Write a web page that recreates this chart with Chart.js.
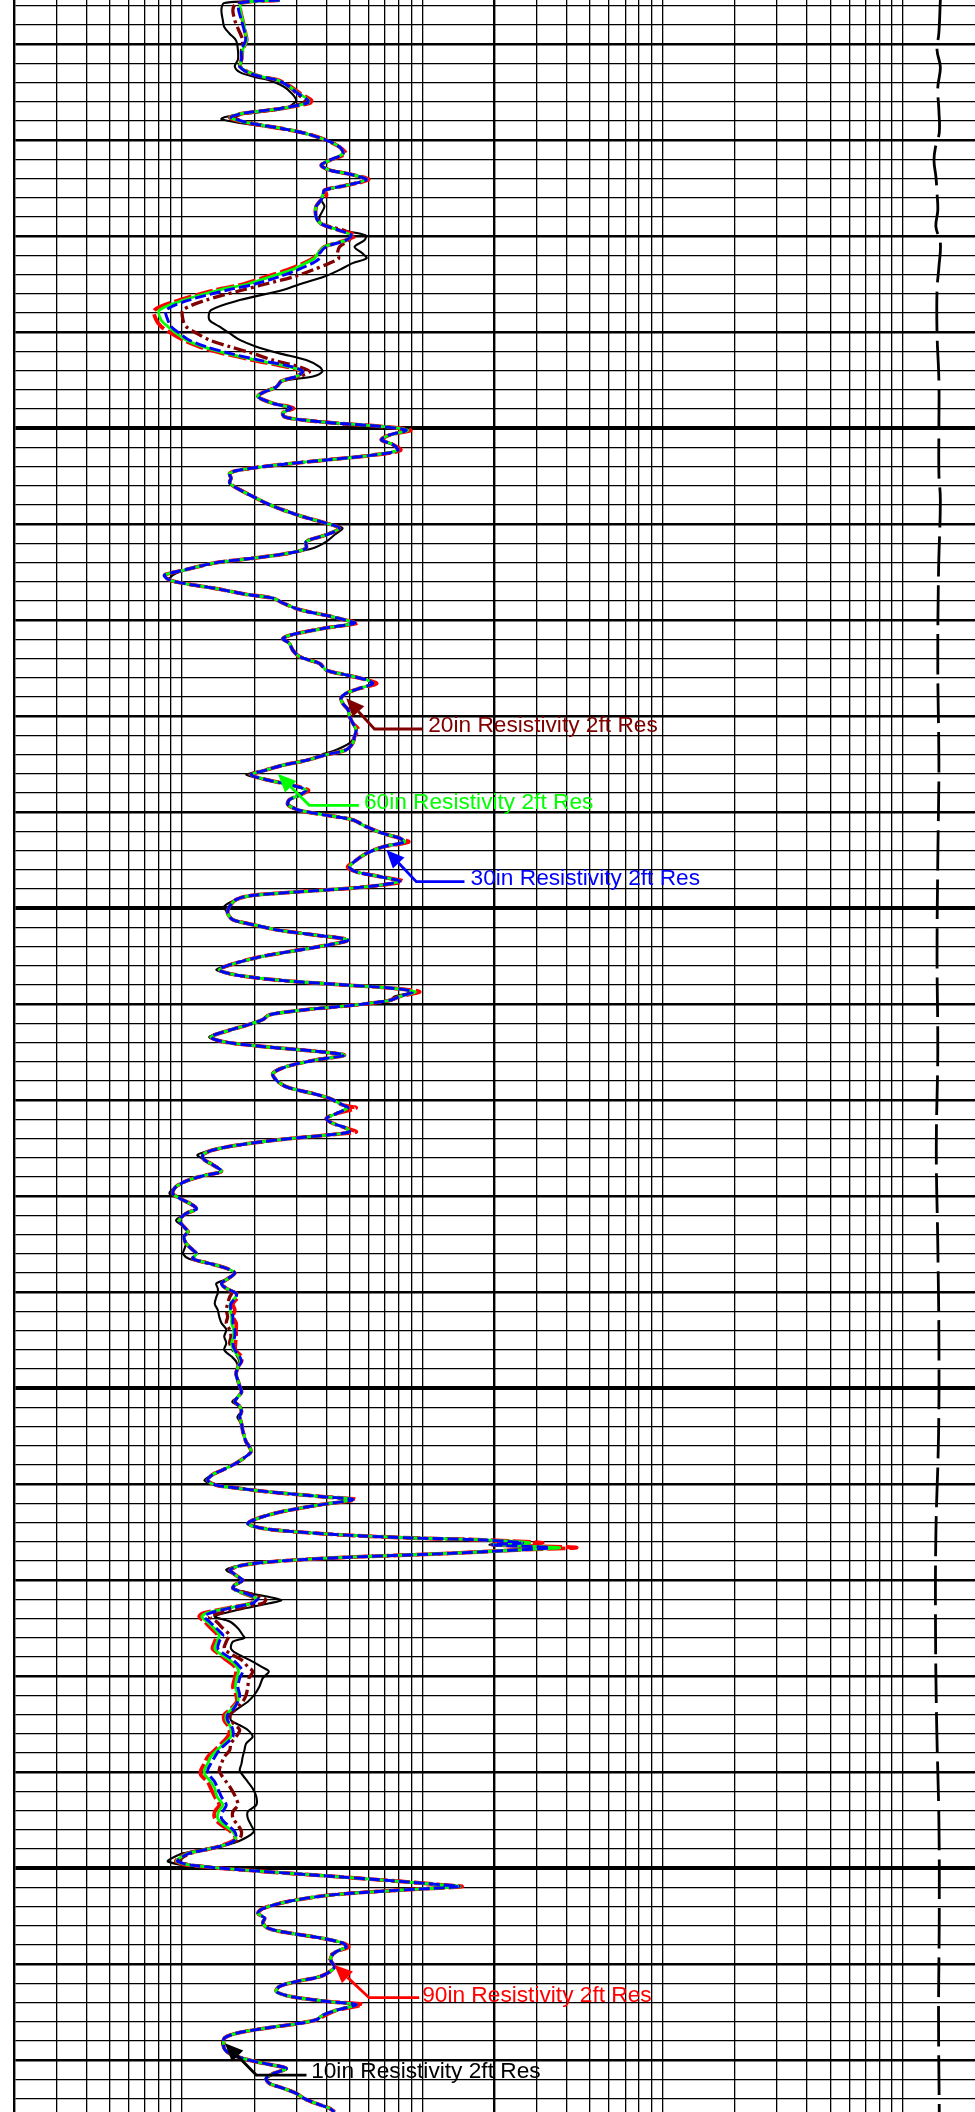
<!DOCTYPE html>
<html>
<head>
<meta charset="utf-8">
<script src="https://cdn.jsdelivr.net/npm/chart.js@4.4.1/dist/chart.umd.min.js"></script>
<style>
html,body{margin:0;padding:0;background:#fff;}
#wrap{width:975px;height:2112px;position:relative;}
</style>
</head>
<body>
<div id="wrap"><canvas id="c"></canvas></div>
<script>
// ---------------- DATA ----------------
const DEPTH_FT = [
5055.39,5055.7,5056.4,5057.5,5058.2,5058.9,5059.6,5060.6,5061.6,5062.3,
5062.9,5063.4,5063.7,5064.4,5065.1,5065.8,5066.1,5066.7,5067.2,5067.6,
5067.8,5068.2,5068.8,5069.3,5070.0,5070.7,5071.4,5072.1,5072.6,5073.1,
5073.6,5074.1,5074.7,5075.2,5075.7,5076.2,5076.9,5078.0,5078.7,5079.4,
5079.9,5080.4,5081.1,5081.8,5082.3,5082.8,5083.5,5084.2,5085.0,5085.6,
5086.65,5087.7,5088.7,5089.4,5090.1,5090.8,5091.5,5092.2,5092.9,5093.6,
5094.1,5094.6,5095.1,5095.7,5096.2,5096.7,5097.4,5097.9,5098.4,5098.8,
5099.1,5099.5,5099.8,5100.2,5100.7,5101.2,5101.7,5102.3,5102.8,5103.3,
5103.8,5104.35,5104.7,5105.2,5105.7,5106.4,5107.1,5107.8,5108.5,5109.2,
5109.9,5110.4,5111.1,5111.8,5112.5,5113.0,5113.5,5114.0,5114.8,5115.3,
5115.8,5116.2,5116.7,5117.3,5117.7,5118.2,5118.9,5119.5,5120.0,5120.3,
5120.8,5121.4,5121.9,5122.4,5123.1,5123.8,5124.5,5125.2,5125.7,5126.2,
5126.6,5127.1,5127.6,5128.1,5128.7,5129.3,5130.0,5130.7,5131.4,5132.1,
5132.8,5133.5,5134.0,5134.6,5135.1,5135.6,5136.1,5136.6,5137.2,5137.7,
5138.2,5138.7,5139.2,5139.8,5140.3,5140.8,5141.5,5142.2,5142.7,5143.1,
5143.6,5144.3,5145.0,5145.7,5146.2,5146.7,5147.2,5147.8,5148.3,5148.7,
5149.1,5149.8,5150.5,5151.2,5151.7,5152.3,5152.8,5153.3,5153.8,5154.4,
5155.0,5155.7,5156.4,5156.95,5157.5,5158.0,5158.3,5158.7,5159.2,5159.6,
5160.1,5160.6,5161.1,5161.6,5162.2,5162.7,5163.4,5163.9,5164.4,5164.9,
5165.3,5165.8,5166.5,5167.2,5167.9,5168.6,5169.3,5169.8,5170.5,5170.8,
5171.4,5171.9,5172.4,5172.9,5173.3,5173.6,5174.1,5174.7,5175.2,5175.7,
5176.2,5176.7,5177.4,5177.8,5178.3,5179.0,5179.7,5180.2,5180.7,5181.3,
5181.8,5182.5,5183.2,5183.7,5184.2,5184.9,5185.6,5186.0,5186.5,5187.0,
5187.5,5188.0,5188.6,5189.1,5189.6,5190.1,5190.5,5191.2,5191.85,5192.55,
5193.2,5193.9,5194.6,5195.3,5196.0,5196.7,5197.2,5197.8,5198.5,5199.2,
5199.8,5200.4,5200.9,5201.4,5201.9,5202.4,5203.0,5203.7,5204.4,5205.05,
5205.6,5206.1,5206.6,5207.1,5207.8,5208.5,5209.0,5209.6,5210.1,5210.3,
5210.8,5211.3,5211.6,5212.2,5212.9,5213.6,5214.1,5214.6,5214.95,5215.3,
5215.6,5215.8,5216.1,5216.3,5216.6,5216.85,5217.2,5217.6,5218.0,5218.4,
5218.9,5219.5,5220.0,5220.5,5220.85,5221.4,5221.9,5222.1,5222.4,5222.9,
5223.45,5223.8,5224.3,5225.0,5225.7,5226.0,5226.4,5227.1,5227.6,5228.3,
5229.0,5229.5,5230.2,5231.1,5231.95,5232.65,5233.5,5234.0,5234.6,5235.1,
5235.6,5236.3,5237.0,5237.7,5238.4,5239.1,5239.8,5240.3,5241.0,5241.7,
5242.55,5243.4,5244.1,5244.8,5245.5,5246.2,5246.9,5247.4,5247.9,5248.45,
5249.0,5249.3,5249.7,5250.2,5250.7,5251.2,5251.75,5251.9,5252.3,5252.8,
5253.5,5254.2,5254.7,5255.2,5255.7,5256.3,5256.8,5257.3,5257.8,5258.2,
5258.7,5259.2,5259.7,5260.25,5260.8,5261.3,5261.8,5262.3,5262.85,5263.4,
5263.9,5264.2,5264.8,5265.3,5265.8,5266.2,5266.7,5267.2,5267.7,5268.25,
5268.8,5269.3,5269.8,5270.3,5270.85,5271.4,5271.9,5272.4,5272.9,5273.45,
5274.0,5274.5,5275.0,5275.4
];

// 10in Resistivity 2ft Res (ohm.m)
const RES_10IN = [
2.55,1.50,1.46,1.48,1.50,1.58,1.68,1.71,1.71,1.66,
1.74,2.00,2.27,2.65,2.86,2.99,2.94,2.70,1.91,1.50,
1.46,1.74,2.55,3.29,3.99,4.53,4.68,4.11,3.80,4.11,
5.14,5.92,4.83,3.92,3.86,3.80,3.92,3.74,3.80,4.68,
5.81,5.76,5.23,5.65,5.87,5.14,4.53,3.92,3.09,2.63,
1.74,1.32,1.30,1.43,1.58,1.74,2.04,2.55,3.29,3.74,
3.84,3.51,2.63,2.47,2.21,2.07,2.39,2.85,2.63,2.67,
3.09,4.53,6.65,8.58,7.32,6.76,7.55,7.92,6.23,3.99,
2.55,1.74,1.58,1.60,1.58,1.74,1.97,2.24,2.63,3.18,
3.99,4.66,4.32,3.99,3.51,2.80,2.04,1.39,1.03,0.917,
0.887,1.04,1.39,1.85,2.39,2.63,3.09,3.99,4.83,5.23,
3.99,2.99,2.63,2.80,2.89,3.09,3.74,3.99,4.83,5.85,
6.23,5.49,4.83,4.60,4.68,4.91,4.98,5.14,5.31,5.23,
4.98,4.38,3.81,3.29,2.63,2.24,1.85,2.24,2.89,3.29,
3.09,2.80,2.76,3.09,3.99,5.14,5.85,6.86,8.05,8.45,
6.86,5.85,5.31,4.98,5.31,6.65,8.05,5.66,2.99,1.91,
1.68,1.50,1.55,1.63,1.97,2.55,3.62,4.91,4.11,2.99,
2.17,1.68,1.39,1.68,2.55,4.83,7.32,9.15,7.67,7.32,
5.14,3.18,2.31,2.17,1.85,1.58,1.30,1.48,2.17,3.62,
4.75,3.62,2.72,2.39,2.47,2.72,3.51,4.11,4.68,4.91,
4.38,3.99,4.24,4.83,4.98,4.11,2.55,1.68,1.34,1.16,
1.24,1.34,1.46,1.26,1.07,0.945,0.887,0.976,1.07,1.15,
1.04,0.945,1.02,1.06,1.02,1.04,1.02,1.01,1.07,1.30,
1.53,1.66,1.55,1.39,1.41,1.41,1.39,1.37,1.41,1.43,
1.46,1.53,1.50,1.53,1.50,1.61,1.68,1.71,1.68,1.71,
1.74,1.77,1.71,1.62,1.74,1.77,1.70,1.77,1.79,1.82,
1.85,1.91,1.94,1.85,1.68,1.48,1.34,1.24,1.39,1.58,
2.31,3.86,5.14,3.62,2.55,2.04,1.88,2.17,2.99,4.83,
9.15,17.9,25.4,19.1,32.3,24.7,13.0,4.98,2.55,1.82,
1.53,1.68,1.79,1.66,1.63,1.97,2.47,2.59,2.31,1.85,
1.48,1.37,1.58,1.71,1.79,1.82,1.63,1.60,1.68,1.91,
2.14,2.30,2.17,2.10,2.00,1.88,1.68,1.60,1.60,1.74,
1.88,1.97,1.85,1.82,1.79,1.77,1.74,1.79,1.88,1.97,
2.04,2.04,1.88,1.88,1.94,1.99,1.82,1.63,1.30,1.01,
0.901,0.873,1.04,1.85,3.51,6.65,12.4,14.2,7.80,4.11,
2.72,2.17,2.07,2.21,2.17,2.31,2.89,3.86,4.68,4.83,
4.38,4.18,4.18,4.32,4.11,3.74,2.99,2.55,2.47,2.89,
4.11,5.31,4.38,3.86,3.62,2.99,2.17,1.68,1.50,1.47,
1.50,1.58,1.79,2.17,2.72,2.39,2.24,2.31,2.63,2.99,
3.24,3.62,4.11,4.32
];

// 20in Resistivity 2ft Res
const RES_20IN = [
2.55,1.69,1.63,1.66,1.70,1.75,1.79,1.77,1.77,1.74,
1.87,2.14,2.47,2.78,3.00,3.24,3.24,2.55,1.82,1.66,
1.69,1.93,2.63,3.29,3.99,4.53,4.68,4.11,3.80,4.11,
5.14,5.85,4.83,3.92,3.86,3.80,3.62,3.62,3.80,4.75,
5.08,4.98,4.53,4.44,4.49,4.11,3.51,2.94,2.21,1.79,
1.26,1.01,1.01,1.04,1.15,1.30,1.58,1.97,2.39,3.09,
3.40,3.09,2.59,2.47,2.21,2.07,2.39,2.85,2.63,2.67,
3.09,4.53,6.65,8.58,7.32,6.76,7.55,7.92,6.23,3.99,
2.55,1.74,1.58,1.60,1.58,1.74,1.97,2.24,2.63,3.18,
3.99,4.53,3.99,3.29,3.29,2.80,2.04,1.39,1.01,0.845,
0.887,1.04,1.39,1.85,2.39,2.63,3.09,3.99,4.83,5.23,
3.99,2.99,2.63,2.80,2.89,3.09,3.74,3.99,4.83,5.85,
6.23,5.49,4.83,4.60,4.68,4.91,4.98,5.14,5.31,5.23,
5.14,4.83,3.99,3.29,2.63,2.24,1.94,2.24,2.89,3.29,
3.09,2.80,2.76,3.09,3.99,5.14,5.85,6.86,8.05,8.45,
6.86,5.85,5.31,4.98,5.31,6.65,8.05,5.66,2.99,1.91,
1.68,1.58,1.55,1.63,1.97,2.55,3.62,4.91,4.11,2.99,
2.17,1.68,1.43,1.68,2.55,4.83,7.32,9.15,8.05,7.32,
5.14,3.18,2.31,2.17,1.85,1.58,1.32,1.48,2.17,3.62,
4.75,3.62,2.72,2.39,2.47,2.72,3.51,4.11,4.68,4.91,
4.38,3.99,4.24,4.83,4.98,4.11,2.55,1.68,1.34,1.22,
1.24,1.34,1.46,1.26,1.07,0.945,0.915,0.976,1.07,1.15,
1.04,0.976,1.02,1.06,1.02,1.04,1.11,1.15,1.11,1.30,
1.53,1.66,1.55,1.46,1.53,1.61,1.58,1.55,1.53,1.55,
1.53,1.58,1.60,1.58,1.63,1.71,1.74,1.71,1.68,1.71,
1.74,1.77,1.71,1.66,1.74,1.77,1.74,1.77,1.79,1.82,
1.85,1.91,1.94,1.85,1.68,1.48,1.34,1.28,1.39,1.58,
2.31,3.86,5.14,3.62,2.55,2.04,1.88,2.17,2.99,4.83,
9.15,17.9,26.7,19.6,34.9,24.7,13.0,4.98,2.55,1.82,
1.59,1.68,1.79,1.66,1.63,1.91,2.21,2.23,2.17,1.74,
1.43,1.30,1.39,1.48,1.58,1.56,1.53,1.50,1.58,1.77,
1.88,1.97,1.90,1.88,1.85,1.79,1.66,1.58,1.60,1.67,
1.74,1.68,1.60,1.58,1.50,1.46,1.43,1.46,1.53,1.60,
1.67,1.71,1.63,1.63,1.71,1.77,1.74,1.60,1.35,1.09,
0.992,0.976,1.12,1.85,3.51,6.65,12.4,14.2,7.80,4.11,
2.72,2.17,2.07,2.21,2.17,2.31,2.89,3.86,4.68,4.83,
4.38,4.11,4.18,4.32,4.11,3.74,2.99,2.55,2.47,2.89,
4.11,5.31,4.38,3.86,3.62,2.99,2.17,1.68,1.50,1.49,
1.50,1.58,1.79,2.17,2.72,2.39,2.24,2.31,2.63,2.99,
3.24,3.62,4.11,4.32
];

// 30in Resistivity 2ft Res
const RES_30IN = [
2.55,1.74,1.72,1.77,1.80,1.83,1.84,1.77,1.77,1.74,
1.87,2.14,2.47,2.80,3.03,3.34,3.34,2.55,1.79,1.60,
1.66,1.91,2.63,3.29,3.99,4.53,4.68,4.11,3.80,4.11,
5.14,5.85,4.83,3.92,3.86,3.80,3.62,3.62,3.80,4.53,
5.07,4.83,3.99,3.74,3.74,3.50,3.03,2.55,2.00,1.55,
1.07,0.859,0.873,0.901,0.976,1.07,1.26,1.58,2.10,2.89,
3.18,2.99,2.59,2.47,2.21,2.07,2.39,2.85,2.63,2.67,
3.09,4.53,6.65,8.58,7.32,6.76,7.55,7.92,6.23,3.99,
2.55,1.74,1.58,1.60,1.58,1.74,1.97,2.24,2.63,3.18,
3.99,4.53,3.99,3.29,3.29,2.80,2.04,1.39,1.01,0.845,
0.887,1.04,1.39,1.85,2.39,2.63,3.09,3.99,4.83,5.23,
3.99,2.99,2.63,2.80,2.89,3.09,3.74,3.99,4.83,5.85,
6.23,5.49,4.83,4.60,4.68,4.91,4.98,5.14,5.31,5.23,
5.14,4.83,3.99,3.29,2.63,2.24,1.94,2.24,2.89,3.29,
3.09,2.80,2.76,3.09,3.99,5.14,5.85,6.86,8.05,8.45,
6.86,5.85,5.31,4.98,5.31,6.65,8.05,5.66,2.99,1.91,
1.68,1.58,1.55,1.63,1.97,2.55,3.62,4.91,4.11,2.99,
2.17,1.68,1.43,1.68,2.55,4.83,7.32,9.15,8.05,7.32,
5.14,3.18,2.31,2.17,1.85,1.58,1.32,1.48,2.17,3.62,
4.75,3.62,2.72,2.39,2.47,2.72,3.51,4.11,4.68,4.91,
4.38,3.99,4.24,4.83,4.98,4.11,2.55,1.68,1.34,1.22,
1.24,1.34,1.46,1.26,1.07,0.945,0.915,0.976,1.07,1.15,
1.04,0.976,1.02,1.06,1.02,1.04,1.11,1.15,1.11,1.30,
1.53,1.66,1.55,1.46,1.53,1.68,1.68,1.60,1.60,1.63,
1.63,1.66,1.66,1.63,1.66,1.74,1.77,1.71,1.68,1.71,
1.74,1.77,1.71,1.66,1.74,1.77,1.74,1.77,1.79,1.82,
1.85,1.91,1.94,1.85,1.68,1.48,1.34,1.28,1.39,1.58,
2.31,3.86,5.14,3.62,2.55,2.04,1.88,2.17,2.99,4.83,
9.15,17.9,26.2,19.6,33.9,24.7,13.0,4.98,2.55,1.82,
1.59,1.68,1.79,1.66,1.63,1.85,2.07,2.04,1.97,1.58,
1.30,1.24,1.30,1.39,1.48,1.46,1.43,1.41,1.48,1.63,
1.74,1.79,1.74,1.71,1.74,1.71,1.63,1.55,1.55,1.60,
1.63,1.63,1.53,1.43,1.37,1.32,1.28,1.30,1.37,1.41,
1.46,1.53,1.48,1.46,1.55,1.66,1.68,1.58,1.34,1.07,
0.976,0.960,1.11,1.85,3.51,6.65,12.4,14.2,7.80,4.11,
2.72,2.17,2.07,2.21,2.17,2.31,2.89,3.86,4.68,4.83,
4.38,4.18,4.18,4.32,4.11,3.74,2.99,2.55,2.47,2.89,
4.11,5.31,4.38,3.86,3.62,2.99,2.17,1.68,1.50,1.49,
1.50,1.58,1.79,2.17,2.72,2.39,2.24,2.31,2.63,2.99,
3.24,3.62,4.11,4.32
];

// 60in Resistivity 2ft Res
const RES_60IN = [
2.55,1.77,1.75,1.79,1.82,1.84,1.86,1.79,1.77,1.75,
1.89,2.16,2.48,2.80,3.05,3.36,3.36,2.57,1.79,1.59,
1.64,1.89,2.63,3.29,3.99,4.53,4.68,4.11,3.80,4.11,
5.14,5.85,4.83,3.92,3.86,3.80,3.62,3.62,3.80,4.53,
5.07,4.83,3.92,3.68,3.56,3.27,2.86,2.35,1.87,1.43,
1.02,0.806,0.819,0.873,0.945,1.04,1.22,1.53,2.04,2.80,
3.18,2.99,2.59,2.47,2.21,2.07,2.39,2.85,2.63,2.67,
3.09,4.53,6.65,8.69,7.32,6.76,7.55,7.92,6.23,3.99,
2.55,1.74,1.58,1.60,1.58,1.74,1.97,2.24,2.63,3.18,
3.99,4.53,3.99,3.29,3.29,2.80,2.04,1.39,1.01,0.845,
0.887,1.04,1.39,1.85,2.39,2.63,3.09,3.99,4.83,5.23,
3.99,2.99,2.63,2.80,2.89,3.09,3.74,3.99,4.83,5.85,
6.23,5.49,4.83,4.60,4.68,4.91,4.98,5.14,5.31,5.23,
5.14,4.83,3.99,3.29,2.63,2.24,1.94,2.24,2.89,3.29,
3.09,2.80,2.76,3.09,3.99,5.14,5.85,6.86,8.05,8.45,
6.86,5.85,5.31,4.98,5.31,6.65,8.05,5.66,2.99,1.91,
1.68,1.58,1.55,1.63,1.97,2.55,3.62,4.91,4.11,2.99,
2.17,1.68,1.43,1.68,2.55,4.83,7.32,9.36,8.05,7.32,
5.14,3.18,2.31,2.17,1.85,1.58,1.32,1.48,2.17,3.62,
4.75,3.62,2.72,2.39,2.47,2.72,3.51,4.11,4.68,4.91,
4.38,3.99,4.24,4.83,4.98,4.11,2.55,1.68,1.34,1.22,
1.24,1.34,1.46,1.26,1.07,0.945,0.915,0.976,1.07,1.15,
1.04,0.976,1.02,1.06,1.02,1.04,1.11,1.15,1.11,1.30,
1.53,1.66,1.55,1.46,1.53,1.68,1.67,1.59,1.59,1.61,
1.61,1.64,1.64,1.61,1.64,1.72,1.75,1.71,1.68,1.71,
1.74,1.77,1.71,1.66,1.74,1.77,1.74,1.77,1.79,1.82,
1.85,1.91,1.94,1.85,1.68,1.48,1.34,1.28,1.39,1.58,
2.31,3.86,5.14,3.62,2.55,2.04,1.88,2.17,2.99,4.83,
9.15,17.9,28.0,19.6,37.3,24.7,13.0,4.98,2.55,1.82,
1.59,1.68,1.79,1.66,1.63,1.82,2.05,2.02,1.95,1.56,
1.26,1.21,1.27,1.36,1.43,1.42,1.40,1.37,1.43,1.58,
1.69,1.72,1.69,1.67,1.71,1.71,1.60,1.53,1.53,1.58,
1.60,1.60,1.50,1.40,1.32,1.28,1.24,1.25,1.32,1.37,
1.40,1.48,1.42,1.41,1.50,1.63,1.67,1.58,1.34,1.06,
0.969,0.951,1.10,1.85,3.51,6.65,12.4,14.3,7.80,4.11,
2.72,2.17,2.07,2.21,2.17,2.31,2.89,3.86,4.68,4.83,
4.38,4.18,4.18,4.32,4.11,3.74,2.99,2.55,2.47,2.89,
4.11,5.31,4.38,3.86,3.62,2.99,2.17,1.68,1.50,1.49,
1.50,1.58,1.79,2.17,2.72,2.39,2.24,2.31,2.63,2.99,
3.24,3.62,4.11,4.32
];

// 90in Resistivity 2ft Res
const RES_90IN = [
2.55,1.77,1.75,1.79,1.82,1.84,1.86,1.79,1.77,1.75,
1.89,2.16,2.50,2.83,3.09,3.45,3.43,2.60,1.79,1.58,
1.62,1.87,2.63,3.29,3.99,4.53,4.80,4.11,3.80,4.11,
5.14,5.98,4.83,3.92,4.00,3.80,3.62,3.62,3.80,4.53,
5.28,4.83,3.92,3.68,3.51,3.21,2.75,2.25,1.79,1.37,
0.976,0.768,0.781,0.819,0.901,1.01,1.18,1.48,1.97,2.72,
3.18,2.99,2.59,2.47,2.21,2.07,2.39,2.91,2.63,2.67,
3.09,4.53,6.65,8.95,7.32,6.76,7.55,8.13,6.23,3.99,
2.55,1.74,1.58,1.60,1.58,1.74,1.97,2.24,2.63,3.18,
3.99,4.53,3.99,3.29,3.29,2.80,2.04,1.39,1.01,0.845,
0.887,1.04,1.39,1.85,2.39,2.63,3.09,3.99,4.83,5.38,
3.99,2.99,2.63,2.80,2.89,3.09,3.74,3.99,4.83,5.85,
6.46,5.49,4.83,4.60,4.68,4.91,4.98,5.14,5.43,5.23,
5.14,4.83,3.99,3.29,2.63,2.24,1.94,2.24,2.89,3.36,
3.09,2.80,2.76,3.09,3.99,5.14,5.85,6.86,8.05,8.78,
6.86,5.85,5.31,4.89,5.31,6.65,8.29,5.66,2.99,1.91,
1.68,1.58,1.55,1.63,1.97,2.55,3.62,4.91,4.11,2.99,
2.17,1.68,1.43,1.68,2.55,4.83,7.32,9.75,8.05,7.32,
5.14,3.18,2.31,2.17,1.85,1.58,1.32,1.48,2.17,3.62,
4.75,3.62,2.72,2.39,2.47,2.72,3.51,4.11,4.68,5.31,
4.38,3.99,4.24,4.83,5.31,4.11,2.55,1.68,1.34,1.22,
1.24,1.34,1.46,1.26,1.07,0.945,0.915,0.976,1.07,1.15,
1.04,0.976,1.02,1.06,1.02,1.04,1.11,1.15,1.11,1.30,
1.53,1.66,1.55,1.46,1.53,1.68,1.71,1.63,1.66,1.63,
1.68,1.68,1.68,1.67,1.67,1.77,1.77,1.71,1.68,1.71,
1.74,1.77,1.71,1.66,1.74,1.77,1.74,1.77,1.79,1.82,
1.85,1.91,1.94,1.85,1.68,1.48,1.34,1.28,1.39,1.58,
2.31,3.86,5.28,3.62,2.55,2.04,1.88,2.17,2.99,4.83,
9.15,17.9,31.7,19.6,43.9,24.7,13.0,4.98,2.55,1.82,
1.59,1.68,1.79,1.66,1.63,1.82,2.04,2.00,1.94,1.55,
1.22,1.18,1.24,1.32,1.41,1.39,1.37,1.34,1.41,1.53,
1.66,1.68,1.66,1.63,1.68,1.69,1.58,1.50,1.50,1.55,
1.58,1.55,1.46,1.37,1.28,1.24,1.20,1.20,1.28,1.32,
1.37,1.43,1.37,1.37,1.46,1.60,1.67,1.55,1.34,1.06,
0.960,0.945,1.08,1.85,3.51,6.65,12.5,14.6,7.80,4.11,
2.72,2.17,2.07,2.21,2.17,2.31,2.89,3.86,4.68,4.94,
4.38,4.18,4.18,4.32,4.11,3.74,2.99,2.55,2.47,2.89,
4.11,5.65,4.38,3.96,3.62,2.99,2.17,1.68,1.50,1.49,
1.50,1.58,1.79,2.17,2.72,2.39,2.24,2.31,2.63,2.99,
3.24,3.62,4.11,4.32
];

// right-hand black dashed curve
const RIGHT_DEPTH = [5055.39,5058.8,5060.6,5062.4,5064.5,5066.9,5069.2,5070.7,5072.1,5073.8,
5075.5,5077.3,5079.0,5080.7,5083.2,5085.6,5090.1,5095.0,5099.9,5104.7,5107.5,
5115,5125,5135,5145,5155,5165,5175,5185,5195,5205,5215,5225,5235,5245,5255,5265,5275.4];
const RIGHT_RES = [1435,1415,1390,1435,1400,1415,1420,1370,1350,1375,
1390,1400,1375,1435,1415,1390,1390,1415,1415,1415,1435,
1410,1400,1415,1400,1390,1400,1380,1400,1415,1410,1375,1370,1385,1415,1420,1410,1420];

// grid values
const GRID_RES = [0.2,0.3,0.4,0.5,0.6,0.7,0.8,0.9,1,2,3,4,5,6,7,8,9,10,20,30,40,50,60,70,80,90,100,200,300,400,500,600,700,800,900,1000];
const DEPTH_TOP = 5055.39, DEPTH_BOTTOM = 5275.39;
const GRID_DEPTH = [];
for (let d = 5056; d <= 5274; d += 2) GRID_DEPTH.push(d);

// annotations
const ANNOT_TEXT  = ['20in Resistivity 2ft Res','60in Resistivity 2ft Res','30in Resistivity 2ft Res','90in Resistivity 2ft Res','10in Resistivity 2ft Res'];
const ANNOT_COLOR = ['#800000','#00ff00','#0000ff','#ff0000','#000000'];
const ANNOT_TIP_RES    = [4.83, 2.51, 7.09, 4.31, 1.51];
const ANNOT_TIP_DEPTH  = [5128.13, 5136.02, 5143.93, 5260.08, 5268.23];
const ANNOT_ELBOW_RES  = [6.33, 3.39, 9.45, 6.01, 2.04];
const ANNOT_LINE_DEPTH = [5131.33, 5139.28, 5147.23, 5263.48, 5271.54];
const ANNOT_END_RES    = [10.03, 5.45, 15.0, 9.72, 3.30];
const ANNOT_TEXT_RES   = [10.6, 5.72, 15.9, 10.0, 3.45];
const ANNOT_TEXT_DEPTH = [5131.0, 5139.04, 5146.95, 5263.31, 5271.19];

// ---------------- CHART ----------------
const pts = (vals, depths) => vals.map((v, i) => ({x: v, y: depths[i]}));

const annotPlugin = {
  id: 'annot',
  afterDatasetsDraw(chart) {
    const ctx = chart.ctx, xs = chart.scales.x, ys = chart.scales.y;
    ctx.save();
    for (let i = 0; i < ANNOT_TEXT.length; i++) {
      const tx = xs.getPixelForValue(ANNOT_TIP_RES[i]), ty = ys.getPixelForValue(ANNOT_TIP_DEPTH[i]);
      const ex = xs.getPixelForValue(ANNOT_ELBOW_RES[i]), ey = ys.getPixelForValue(ANNOT_LINE_DEPTH[i]);
      const lx = xs.getPixelForValue(ANNOT_END_RES[i]);
      const ang = Math.atan2(ty - ey, tx - ex);
      const hl = 18, hw = 8;
      const bx = tx - hl * Math.cos(ang), by = ty - hl * Math.sin(ang);
      ctx.strokeStyle = ANNOT_COLOR[i];
      ctx.fillStyle = ANNOT_COLOR[i];
      ctx.lineWidth = 2.8;
      ctx.setLineDash([]);
      ctx.beginPath();
      ctx.moveTo(lx, ey); ctx.lineTo(ex, ey); ctx.lineTo(bx, by);
      ctx.stroke();
      ctx.beginPath();
      ctx.moveTo(tx, ty);
      ctx.lineTo(bx + hw * Math.sin(ang), by - hw * Math.cos(ang));
      ctx.lineTo(bx - hw * Math.sin(ang), by + hw * Math.cos(ang));
      ctx.closePath();
      ctx.fill();
      ctx.font = '22.7px "Liberation Sans", Arial, sans-serif';
      ctx.textBaseline = 'middle';
      ctx.textAlign = 'left';
      ctx.fillText(ANNOT_TEXT[i], xs.getPixelForValue(ANNOT_TEXT_RES[i]), ys.getPixelForValue(ANNOT_TEXT_DEPTH[i]));
    }
    ctx.restore();
  }
};

const common = {pointRadius: 0, pointHoverRadius: 0, fill: false, tension: 0.3, borderCapStyle: 'butt', borderJoinStyle: 'round'};

// Chart.js paints dataset 0 last (on top), so the list runs top -> bottom
new Chart(document.getElementById('c'), {
  type: 'line',
  data: {
    datasets: [
      Object.assign({label: '30in Resistivity 2ft Res', data: pts(RES_30IN, DEPTH_FT), borderColor: '#0000ff', borderWidth: 2.9, borderDash: [11, 4]}, common),
      Object.assign({label: '60in Resistivity 2ft Res', data: pts(RES_60IN, DEPTH_FT), borderColor: '#00ff00', borderWidth: 2.8}, common),
      Object.assign({label: '90in Resistivity 2ft Res', data: pts(RES_90IN, DEPTH_FT), borderColor: '#ff0000', borderWidth: 3.8, borderDash: [18, 4]}, common),
      Object.assign({label: '20in Resistivity 2ft Res', data: pts(RES_20IN, DEPTH_FT), borderColor: '#800000', borderWidth: 3.3, borderDash: [12, 4, 3, 4]}, common),
      Object.assign({label: '10in Resistivity 2ft Res', data: pts(RES_10IN, DEPTH_FT), borderColor: '#000000', borderWidth: 2.1}, common),
      Object.assign({label: 'Right', data: pts(RIGHT_RES, RIGHT_DEPTH), borderColor: '#000', borderWidth: 2.8, borderDash: [40, 9]}, common, {tension: 0.4})
    ]
  },
  options: {
    responsive: true,
    maintainAspectRatio: false,
    animation: false,
    devicePixelRatio: 1,
    events: [],
    layout: {padding: {left: 14, right: 0, top: 0, bottom: 0}},
    plugins: {legend: {display: false}, tooltip: {enabled: false}, title: {display: false}},
    scales: {
      x: {
        type: 'logarithmic', position: 'bottom', min: 0.2, max: 2000,
        afterBuildTicks: s => { s.ticks = GRID_RES.map(v => ({value: v})); },
        ticks: {display: false},
        border: {display: false},
        grid: {color: '#000', drawTicks: false, lineWidth: c => (c.tick && c.tick.value === 20) ? 2.4 : 1.3}
      },
      y: {
        type: 'linear', position: 'left', reverse: true, min: DEPTH_TOP, max: DEPTH_BOTTOM,
        afterBuildTicks: s => { s.ticks = GRID_DEPTH.map(v => ({value: v})); },
        ticks: {display: false},
        border: {display: true, color: '#000', width: 2.4},
        grid: {color: '#000', drawTicks: false, lineWidth: c => {
          const v = c.tick ? c.tick.value : 0;
          return v % 50 === 0 ? 4 : (v % 10 === 0 ? 2.4 : 1.3);
        }}
      }
    }
  },
  plugins: [annotPlugin]
});
</script>
</body>
</html>
